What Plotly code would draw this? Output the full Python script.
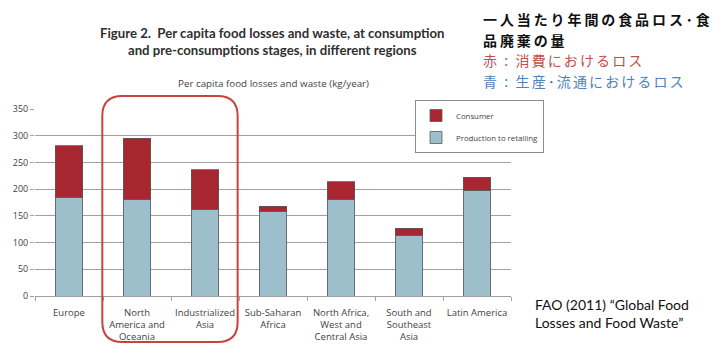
import plotly.graph_objects as go

# Per capita food losses and waste (kg/year), by region
regions = [
    "Europe",
    "North<br>America and<br>Oceania",
    "Industrialized<br>Asia",
    "Sub-Saharan<br>Africa",
    "North Africa,<br>West and<br>Central Asia",
    "South and<br>Southeast<br>Asia",
    "Latin America",
]
production_to_retailing = [185, 181, 162, 159, 181, 114, 198]
consumer = [96, 114, 74, 9, 33, 13, 24]
y_ticks = [0, 50, 100, 150, 200, 250, 300, 350]

W, H = 714, 344
ML, MR, MT, MB = 35, 203, 109, 48
PW, PH = W - ML - MR, H - MT - MB


def px_x(px):
    return (px - ML) / PW


def px_y(py):
    return (H - MB - py) / PH


BLUE = "#9dbecb"
RED = "#a8262f"
EDGE = "#5a5a5a"
GRID = "#a0a0a0"
TXT = "#3f3f3f"

fig = go.Figure()
fig.add_trace(go.Bar(
    x=regions, y=production_to_retailing, name="Production to retailing",
    legendgroup="prod", legendrank=2,
    marker=dict(color=BLUE, line=dict(color=EDGE, width=0.8)),
))
fig.add_trace(go.Bar(
    x=regions, y=consumer, name="Consumer", legendgroup="cons", legendrank=1,
    marker=dict(color=RED, line=dict(color=EDGE, width=0.8)),
))

# Rounded highlight around North America / Industrialized Asia
x0, x1 = 0.49, 2.48
y0, y1 = px_y(342), px_y(96)
rx, ry = 20 / (PW / 7), 20 / PH
path = (
    f"M {x0 + rx},{y1} L {x1 - rx},{y1} Q {x1},{y1} {x1},{y1 - ry} "
    f"L {x1},{y0 + ry} Q {x1},{y0} {x1 - rx},{y0} "
    f"L {x0 + rx},{y0} Q {x0},{y0} {x0},{y0 + ry} "
    f"L {x0},{y1 - ry} Q {x0},{y1} {x0 + rx},{y1} Z"
)


def note(text, x, y, font, xanchor="left", align="left"):
    return dict(text=text, x=px_x(x), y=px_y(y), xref="paper", yref="paper",
                xanchor=xanchor, yanchor="middle", align=align,
                showarrow=False, font=font)


JP_HEAD = "font-size:14px;letter-spacing:2.9px"
JP_SUB = "font-size:14px;letter-spacing:2.1px"
jp_text = (
    f"<span style='{JP_HEAD}'><b>一人当たり年間の食品ロス･食</b></span><br>"
    f"<span style='{JP_HEAD}'><b>品廃棄の量</b></span><br>"
    f"<span style='{JP_SUB};color:#c0504d'>赤 : 消費におけるロス</span><br>"
    f"<span style='{JP_SUB};color:#4f81bd'>青 : 生産･流通におけるロス</span>"
)

annotations = [
    note("<b>Figure 2.  Per capita food losses and waste, at consumption<br>"
         "and pre-consumptions stages, in different regions</b>",
         272, 42, dict(family="Lato", size=13.2, color="#2f2f2f"),
         xanchor="center", align="center"),
    note("Per capita food losses and waste (kg/year)", 273, 84,
         dict(family="Open Sans", size=9.8, color=TXT), xanchor="center"),
    note(jp_text, 481, 49.5,
         dict(family="Noto Sans CJK JP", size=15.8, color="#111111")),
    note("FAO (2011) “Global Food<br>Losses and Food Waste”", 533, 313,
         dict(family="Lato", size=14, color="#111111")),
]

fig.update_layout(
    width=W, height=H,
    margin=dict(l=ML, r=MR, t=MT, b=MB, pad=0),
    paper_bgcolor="white", plot_bgcolor="white",
    barmode="stack", bargap=0.59,
    font=dict(family="Open Sans", size=9, color=TXT),
    showlegend=True,
    legend=dict(
        x=px_x(415), y=px_y(100), xanchor="left", yanchor="top",
        traceorder="grouped", tracegroupgap=3, bgcolor="white",
        bordercolor="#8c8c8c", borderwidth=1,
        font=dict(family="Open Sans", size=7.8, color=TXT),
        itemwidth=30,
    ),
    xaxis=dict(
        type="category", showgrid=False, showline=True, linecolor=GRID,
        linewidth=1.2, ticks="outside", tickson="boundaries", ticklen=4,
        tickcolor=GRID, ticklabelstandoff=7, tickangle=0, automargin=False,
        tickfont=dict(size=9.5, color=TXT),
    ),
    yaxis=dict(
        range=[0, 350], tickvals=y_ticks, showgrid=True, gridcolor=GRID,
        gridwidth=1.2, zeroline=False, showline=False, ticks="outside",
        ticklen=4, tickcolor=GRID, automargin=False,
        tickfont=dict(size=9, color=TXT),
    ),
    shapes=[dict(type="path", path=path, xref="x", yref="paper",
                 line=dict(color="#c8443e", width=2))],
    annotations=annotations,
)

fig.write_html("out.html")
